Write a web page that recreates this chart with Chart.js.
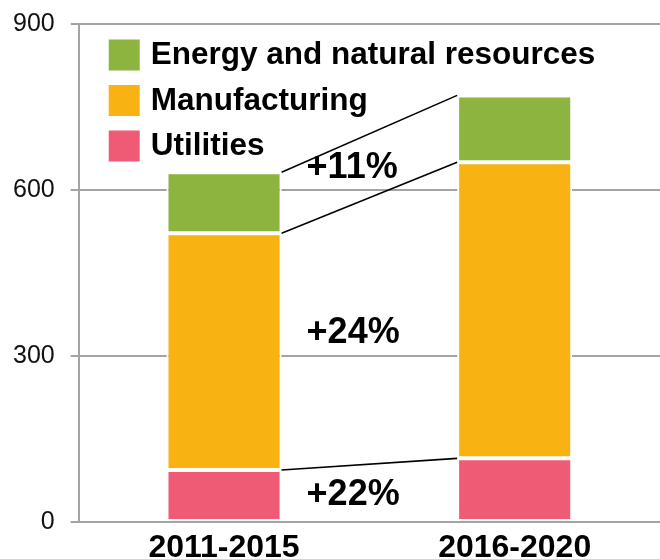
<!DOCTYPE html>
<html>
<head>
<meta charset="utf-8">
<script src="https://cdn.jsdelivr.net/npm/chart.js@4"></script>
<style>
  html, body { margin: 0; padding: 0; background: #ffffff; }
  #wrap { width: 660px; height: 559px; position: relative; }
</style>
</head>
<body>
<div id="wrap"><canvas id="c" width="660" height="559"></canvas></div>
<script>
// ---- data ----
const categories = ['2011-2015', '2016-2020'];
const seriesNames = ['Utilities', 'Manufacturing', 'Energy and natural resources'];
const utilities = [94, 115];
const manufacturing = [428, 535];
const energy = [110, 121];
const changeLabels = ['+22%', '+24%', '+11%'];
const yTicks = [0, 300, 600, 900];

// ---- styles ----
const colors = ['#EF5B74', '#F8B312', '#8CB43F'];
const FONT = '"Liberation Sans", Arial, sans-serif';
const gridColor = '#a3a3a3';

const overlayPlugin = {
  id: 'overlay',
  afterDatasetsDraw(chart) {
    const ctx = chart.ctx;
    const ds = chart.data.datasets;
    const metas = ds.map((d, i) => chart.getDatasetMeta(i));
    ctx.save();
    // connector lines between stacked segment tops
    ctx.strokeStyle = '#000';
    ctx.lineWidth = 1.6;
    metas.forEach(meta => {
      const a = meta.data[0], b = meta.data[1];
      const ax = a.x + a.width / 2, bx = b.x - b.width / 2;
      ctx.beginPath();
      ctx.moveTo(ax, a.y);
      ctx.lineTo(bx, b.y);
      ctx.stroke();
    });
    // change labels
    ctx.fillStyle = '#000';
    ctx.font = 'bold 36px ' + FONT;
    ctx.textAlign = 'left';
    ctx.textBaseline = 'middle';
    metas.forEach((meta, i) => {
      const a = meta.data[0], b = meta.data[1];
      const mid = ((a.y + a.base) / 2 + (b.y + b.base) / 2) / 2;
      ctx.fillText(changeLabels[i], a.x + a.width / 2 + 25, mid + 2);
    });
    // legend (reverse order of stack)
    const ca = chart.chartArea;
    const x0 = ca.left + 30, y0 = ca.top + 15.5;
    ctx.font = 'bold 31.5px ' + FONT;
    ctx.textBaseline = 'alphabetic';
    for (let k = 0; k < ds.length; k++) {
      const d = ds[ds.length - 1 - k];
      const y = y0 + k * 45.5;
      ctx.fillStyle = d.backgroundColor;
      ctx.fillRect(x0, y, 31, 31);
      ctx.fillStyle = '#000';
      ctx.fillText(d.label, x0 + 42, y + 24.5);
    }
    ctx.restore();
  }
};

const datasetValues = [utilities, manufacturing, energy];
new Chart(document.getElementById('c'), {
  type: 'bar',
  data: {
    labels: categories,
    datasets: datasetValues.map((vals, i) => ({
      label: seriesNames[i],
      data: vals,
      backgroundColor: colors[i],
      borderColor: '#ffffff',
      borderWidth: 2,
      borderSkipped: false,
      categoryPercentage: 1,
      barPercentage: 0.396
    }))
  },
  options: {
    responsive: false,
    animation: false,
    devicePixelRatio: 1,
    layout: { padding: { left: -3, top: 24, right: 0, bottom: -7 } },
    plugins: { legend: { display: false }, tooltip: { enabled: false } },
    scales: {
      x: {
        stacked: true,
        grid: { display: false },
        border: { display: false },
        ticks: {
          color: '#000',
          padding: 2,
          font: { family: FONT, size: 32, weight: 'bold', lineHeight: 1.0 }
        }
      },
      y: {
        stacked: true,
        min: yTicks[0],
        max: yTicks[yTicks.length - 1],
        afterBuildTicks(scale) { scale.ticks = yTicks.map(v => ({ value: v })); },
        afterFit(scale) { scale.paddingTop = 12; scale.paddingBottom = 12; },
        grid: { color: gridColor, lineWidth: 2, tickLength: 8, drawTicks: true },
        border: { color: gridColor, width: 2 },
        ticks: {
          color: '#111',
          padding: 16,
          font: { family: FONT, size: 25 }
        }
      }
    }
  },
  plugins: [overlayPlugin]
});
</script>
</body>
</html>
